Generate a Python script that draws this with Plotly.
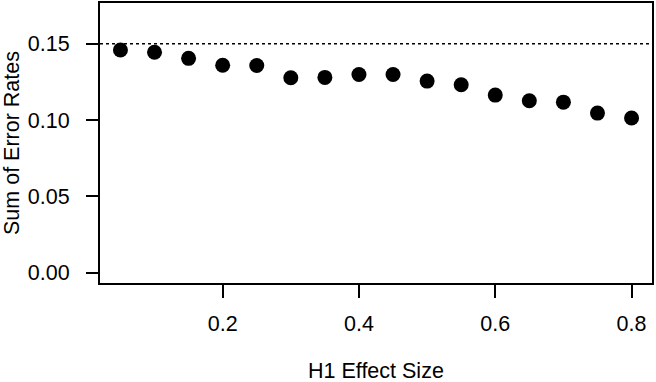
import plotly.graph_objects as go

effect_size = [0.05, 0.10, 0.15, 0.20, 0.25, 0.30, 0.35, 0.40, 0.45, 0.50, 0.55, 0.60, 0.65, 0.70, 0.75, 0.80]
error_sum = [0.1460, 0.1445, 0.1405, 0.1360, 0.1358, 0.1278, 0.1280, 0.1299, 0.1299, 0.1256, 0.1232, 0.1164, 0.1127, 0.1118, 0.1046, 0.1014]
alpha_line = 0.15
x_ticks = [0.2, 0.4, 0.6, 0.8]
x_tick_labels = ["0.2", "0.4", "0.6", "0.8"]
y_ticks = [0.00, 0.05, 0.10, 0.15]
y_tick_labels = ["0.00", "0.05", "0.10", "0.15"]

FONT = "Liberation Sans, Arial, Helvetica, sans-serif"
FS = 21.5

fig = go.Figure()
fig.add_trace(go.Scatter(
    x=effect_size, y=error_sum, mode="markers",
    marker=dict(size=15, color="black", line=dict(width=0)),
    showlegend=False, hoverinfo="x+y"))

fig.add_shape(type="line", xref="paper", yref="y", x0=0, x1=1, y0=alpha_line, y1=alpha_line,
              line=dict(color="black", width=1.5, dash="dot"), layer="below")

fig.update_layout(
    width=656, height=382,
    margin=dict(l=100, r=4, t=1, b=99),
    paper_bgcolor="white", plot_bgcolor="white",
    font=dict(family=FONT, size=FS, color="black"),
    xaxis=dict(range=[0.02, 0.83], tickvals=x_ticks, ticktext=x_tick_labels,
               showgrid=False, zeroline=False, showline=True, mirror=True,
               linecolor="black", linewidth=2, ticks="outside", ticklen=13,
               tickwidth=1.5, tickcolor="black", ticklabelstandoff=7),
    yaxis=dict(range=[-0.0068, 0.1768], tickvals=y_ticks, ticktext=y_tick_labels,
               showgrid=False, zeroline=False, showline=True, mirror=True,
               linecolor="black", linewidth=2, ticks="outside", ticklen=12,
               tickwidth=1.5, tickcolor="black", ticklabelstandoff=12),
    annotations=[
        dict(text="H1 Effect Size", xref="paper", yref="paper", x=0.5, y=0,
             yshift=-88, xanchor="center", yanchor="middle", showarrow=False,
             font=dict(family=FONT, size=FS, color="black")),
        dict(text="Sum of Error Rates", xref="paper", yref="paper", x=0, y=0.5,
             xshift=-88, xanchor="center", yanchor="middle", textangle=-90,
             showarrow=False, font=dict(family=FONT, size=FS, color="black")),
    ],
)

fig.write_html("out.html", config={"displayModeBar": False},
               post_script="document.body.style.margin='0';document.body.style.overflow='hidden';")
